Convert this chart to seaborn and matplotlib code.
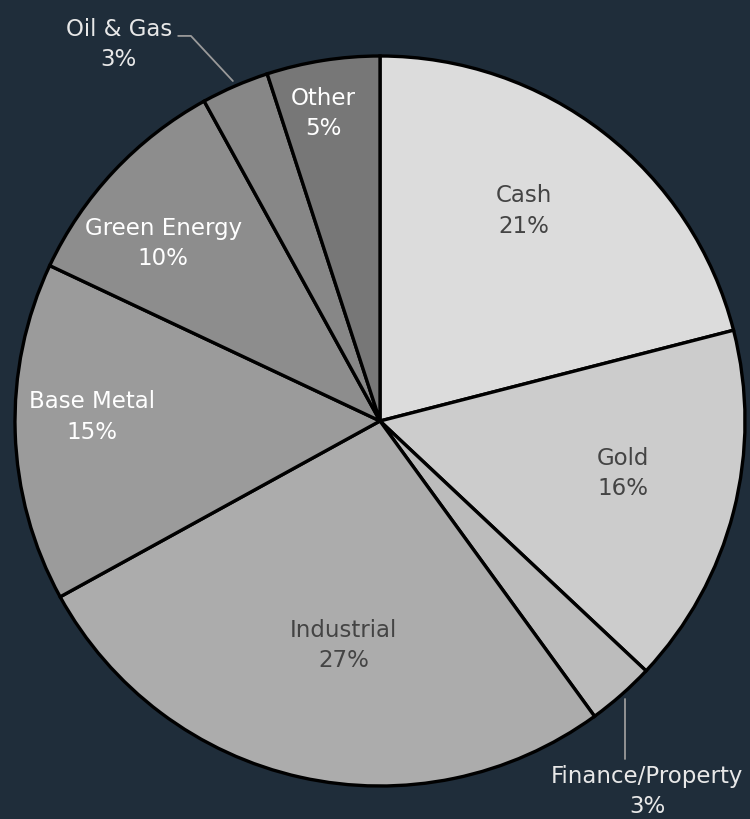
import matplotlib.pyplot as plt
import numpy as np
import seaborn as sns

# portfolio split by sector, clockwise from 12 o'clock
sectors = ['Cash', 'Gold', 'Finance/Property', 'Industrial',
           'Base Metal', 'Green Energy', 'Oil & Gas', 'Other']
weights = [21, 16, 3, 27, 15, 10, 3, 5]

shades = ['#dcdcdc', '#cccccc', '#bcbcbc', '#acacac',
          '#9b9b9b', '#8d8d8d', '#878787', '#777777']
ink = ['#444444', '#444444', '#e8e8e8', '#444444',
       'white', 'white', '#e8e8e8', 'white']

# where each label sits: ('in', angle deg, radius frac)
# or ('out', text x, text y, elbow x (None = straight down), elbow y, tail x)
spots = [('in', 55.7, 0.70), ('in', -11.9, 0.68),
         ('out', 0.732, -1.012, None, -0.925, None),
         ('in', -99.3, 0.62), ('in', 179, 0.79), ('in', 140.5, 0.77),
         ('out', -0.716, 1.034, -0.518, 1.055, -0.553),
         ('in', 100.4, 0.86)]

bg = '#1f2d3a'
sns.set_theme(style='dark', rc={'figure.facecolor': bg, 'axes.facecolor': bg})
plt.rcParams['font.family'] = ['DejaVu Sans']

fig = plt.figure(figsize=(7.5, 8.2), dpi=100)
ax = fig.add_axes([15 / 750, 33 / 820, 730 / 750, 730 / 820])

wedges, _ = ax.pie(weights, colors=shades, startangle=90, counterclock=False,
                   radius=1, wedgeprops=dict(edgecolor='black', linewidth=2.4))

for w, name, val, col, spot in zip(wedges, sectors, weights, ink, spots):
    label = f'{name}\n{val}%'
    if spot[0] == 'in':
        a = np.deg2rad(spot[1])
        ax.text(spot[2] * np.cos(a), spot[2] * np.sin(a), label, color=col,
                ha='center', va='center', fontsize=16.5, linespacing=1.4)
    else:
        _, tx, ty, ex, ey, tail = spot
        mid = np.deg2rad((w.theta1 + w.theta2) / 2)
        sx, sy = 1.015 * np.cos(mid), 1.015 * np.sin(mid)
        if ex is None:
            ex = sx
        xs, ys = [sx, ex], [sy, ey]
        if tail is not None:
            xs.append(tail)
            ys.append(ey)
        ax.plot(xs, ys, color='#9a9a9a', lw=1.3, clip_on=False)
        ax.text(tx, ty, label, color=col, ha='center', va='center',
                fontsize=16.5, linespacing=1.4, clip_on=False)

ax.set_xlim(-1, 1)
ax.set_ylim(-1, 1)
ax.axis('off')

fig.savefig('out.png', dpi=100, facecolor=bg)
